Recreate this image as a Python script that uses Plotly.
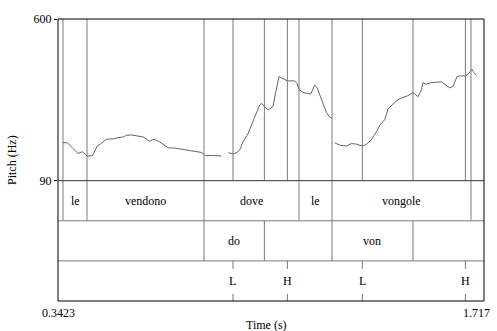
import plotly.graph_objects as go

# ---- data ----
X_MIN, X_MAX = 0.3423, 1.717
Y_MIN, Y_MAX = 90, 600

pitch_time = [0.3584, 0.3726, 0.3907, 0.4068, 0.4210, 0.4359, 0.4533, 0.4694, 0.4791, 0.4985,
              0.5198, 0.5359, 0.5543, 0.5630, 0.5791, 0.5953, 0.6166, 0.6382, 0.6521, 0.6705,
              0.6973, 0.7189, 0.7511, 0.7779, 0.8050, 0.8189, 0.8373, 0.8696, None,
              0.8922, 0.9070, 0.9199, 0.9286, 0.9393, 0.9554, 0.9770, 0.9932, 0.9986, 1.0061,
              1.0180, 1.0254, 1.0361, 1.0448, 1.0554, 1.0683, 1.0825, 1.1061, 1.1135, 1.1200,
              1.1329, 1.1577, 1.1706, 1.1781, 1.1923, 1.2084, 1.2190, 1.2265, None,
              1.2352, 1.2513, 1.2729, 1.2890, 1.3052, 1.3245, 1.3375, 1.3536, 1.3697, 1.3804,
              1.3965, 1.4072, 1.4233, 1.4394, 1.4556, 1.4717, 1.4878, 1.5040, 1.5150, 1.5201,
              1.5288, 1.5472, 1.5795, 1.5956, 1.6063, 1.6169, 1.6298, 1.6385, 1.6569, 1.6685,
              1.6782, 1.6847, 1.6924]
pitch_hz = [210.3, 209.4, 191.6, 176.0, 181.3, 167.9, 168.9, 200.0, 205.3, 220.9,
            221.8, 225.9, 228.1, 233.4, 234.3, 232.1, 228.1, 214.7, 220.9, 212.5,
            193.8, 192.9, 187.6, 183.5, 179.1, 168.9, 169.8, 167.9, None,
            178.2, 174.2, 179.1, 186.6, 212.5, 238.4, 290.4, 328.8, 334.1, 326.9,
            314.4, 316.3, 324.7, 368.3, 418.2, 412.0, 404.8, 404.8, 397.3, 378.6,
            368.3, 363.1, 391.1, 383.9, 347.5, 306.0, 290.4, 287.3, None,
            209.4, 202.2, 199.1, 207.2, 205.3, 199.1, 204.1, 219.7, 243.7, 264.6,
            282.0, 316.3, 331.9, 345.6, 352.8, 358.1, 368.3, 354.9, 376.8, 399.5,
            394.2, 399.5, 401.7, 389.2, 383.0, 387.1, 418.2, 420.4, 420.4, 428.5,
            441.0, 430.7, 422.3]

word_start = [0.3584, 0.4359, 0.8134, 1.1200, 1.2265]
word_end = [0.4359, 0.8134, 1.1200, 1.2265, 1.6750]
word_text = ["le", "vendono", "dove", "le", "vongole"]

syl_start = [0.8134, 1.0083, 1.2265, 1.4878]
syl_end = [1.0083, 1.2265, 1.4878, 1.717]
syl_text = ["do", "", "von", ""]

tone_time = [0.9070, 1.0825, 1.3245, 1.6569]
tone_text = ["L", "H", "L", "H"]

y_ticks = [90, 600]
x_tick_text = ["0.3423", "1.717"]

# ---- figure ----
FONT = dict(family="Liberation Serif, Times New Roman, serif", size=12, color="black")
LINE_GRAY = "#7a7a7a"
PITCH_FRAC = 0.4266

fig = go.Figure()
fig.add_trace(go.Scatter(x=pitch_time, y=pitch_hz, mode="lines",
                         line=dict(color="#666666", width=1), connectgaps=False,
                         hoverinfo="skip", showlegend=False))

shapes = []
# boundaries through pitch area
all_bounds = sorted(set(word_start + word_end + syl_start + tone_time))
for b in all_bounds:
    shapes.append(dict(type="line", xref="x", yref="y", x0=b, x1=b, y0=Y_MIN, y1=Y_MAX,
                       line=dict(color=LINE_GRAY, width=1)))
# tier 1 (words): rows in y2 from 2 to 3
for b in sorted(set(word_start + word_end)):
    shapes.append(dict(type="line", xref="x", yref="y2", x0=b, x1=b, y0=2, y1=3,
                       line=dict(color=LINE_GRAY, width=1)))
# tier 2 (syllables): 1 to 2
for b in syl_start:
    shapes.append(dict(type="line", xref="x", yref="y2", x0=b, x1=b, y0=1, y1=2,
                       line=dict(color=LINE_GRAY, width=1)))
# tier 3 point ticks
for t in tone_time:
    shapes.append(dict(type="line", xref="x", yref="y2", x0=t, x1=t, y0=0.8, y1=1,
                       line=dict(color=LINE_GRAY, width=1)))
    shapes.append(dict(type="line", xref="x", yref="y2", x0=t, x1=t, y0=0, y1=0.18,
                       line=dict(color=LINE_GRAY, width=1)))
# tier separators
for yy in [1, 2]:
    shapes.append(dict(type="line", xref="paper", yref="y2", x0=0, x1=1, y0=yy, y1=yy,
                       line=dict(color=LINE_GRAY, width=1)))
shapes.append(dict(type="line", xref="paper", yref="paper", x0=0, x1=1, y0=PITCH_FRAC, y1=PITCH_FRAC,
                   line=dict(color="#333333", width=1)))
# outer box
shapes.append(dict(type="rect", xref="paper", yref="paper", x0=0, x1=1, y0=0, y1=1,
                   line=dict(color="black", width=1)))

annotations = []
for s, e, txt in zip(word_start, word_end, word_text):
    annotations.append(dict(x=(s + e) / 2, y=2.5, xref="x", yref="y2", text=txt,
                            showarrow=False, font=FONT))
for s, e, txt in zip(syl_start, syl_end, syl_text):
    if txt:
        annotations.append(dict(x=(s + e) / 2, y=1.5, xref="x", yref="y2", text=txt,
                                showarrow=False, font=FONT))
for t, txt in zip(tone_time, tone_text):
    annotations.append(dict(x=t, y=0.5, xref="x", yref="y2", text=txt,
                            showarrow=False, font=FONT))
annotations.append(dict(x=0.0, y=-0.042, xref="paper", yref="paper", text=x_tick_text[0],
                        showarrow=False, font=FONT, xanchor="center", yanchor="middle"))
annotations.append(dict(x=0.983, y=-0.042, xref="paper", yref="paper", text=x_tick_text[1],
                        showarrow=False, font=FONT, xanchor="center", yanchor="middle"))
annotations.append(dict(x=0.49, y=-0.086, xref="paper", yref="paper", text="Time (s)",
                        showarrow=False, font=FONT, xanchor="center", yanchor="middle"))
annotations.append(dict(x=-0.108, y=0.5, xref="paper", yref="paper", text="Pitch (Hz)",
                        showarrow=False, font=FONT, textangle=-90,
                        xanchor="center", yanchor="middle"))

fig.update_layout(
    width=497, height=331,
    margin=dict(l=58, r=13, t=16, b=30),
    paper_bgcolor="white", plot_bgcolor="white",
    xaxis=dict(range=[X_MIN, X_MAX], showgrid=False, zeroline=False, showticklabels=False,
               ticks="", showline=False, fixedrange=True),
    yaxis=dict(domain=[PITCH_FRAC, 1], range=[Y_MIN, Y_MAX], showgrid=False, zeroline=False,
               tickvals=y_ticks, ticktext=[str(v) for v in y_ticks], ticks="outside",
               ticklen=3, tickcolor="black", tickfont=FONT, showline=False),
    yaxis2=dict(domain=[0, PITCH_FRAC], range=[0, 3], showgrid=False, zeroline=False,
                showticklabels=False, ticks="", anchor="x"),
    shapes=shapes, annotations=annotations, showlegend=False,
)

fig.write_html("out.html", config={"displayModeBar": False},
               post_script="document.body.style.margin='0';document.body.style.overflow='hidden';")
